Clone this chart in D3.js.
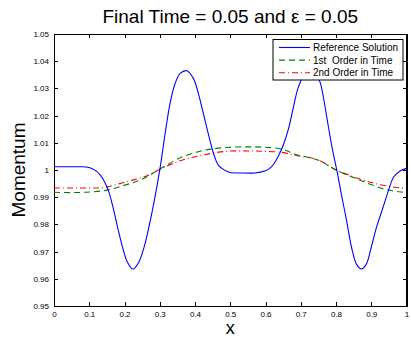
<!DOCTYPE html>
<html>
<head>
<meta charset="utf-8">
<script src="https://cdn.jsdelivr.net/npm/d3@7"></script>
<style>
  body { margin: 0; background: #fff; }
  svg { font-family: "Liberation Sans", Arial, Helvetica, sans-serif; }
  .axis path, .axis line { stroke: #000; shape-rendering: crispEdges; }
  .axis text { font-size: 8px; fill: #000; }
</style>
</head>
<body>
<svg width="411" height="339"></svg>
<script>
// values
var refX = [0, 0.05, 0.08, 0.095, 0.108, 0.12, 0.132, 0.144, 0.156, 0.168, 0.180, 0.194, 0.208, 0.224, 0.240, 0.256, 0.270, 0.285,
    0.301, 0.315, 0.329, 0.343, 0.358, 0.377, 0.396, 0.410, 0.424, 0.438, 0.453, 0.467, 0.486, 0.50, 0.532, 0.570, 0.598,
    0.612, 0.625, 0.637, 0.650, 0.665, 0.679, 0.692, 0.705, 0.718, 0.730, 0.742, 0.755, 0.765, 0.777, 0.790, 0.803, 0.815, 0.830,
    0.844, 0.858, 0.872, 0.886, 0.900, 0.915, 0.931, 0.950, 0.964, 0.983, 1.0];
var refY = [1.0012, 1.0012, 1.0012, 1.0010, 1.0005, 0.9996, 0.9980, 0.9955, 0.9918, 0.9860, 0.9792, 0.9718, 0.9662, 0.9636, 0.9660, 0.9718, 0.9795, 0.9890,
    1.0008, 1.0132, 1.0243, 1.0316, 1.0355, 1.0365, 1.0335, 1.0279, 1.0206, 1.0132, 1.0059, 1.0016, 0.9998, 0.9991, 0.9989, 0.9989, 0.9996,
    1.0006, 1.0025, 1.0052, 1.0090, 1.0150, 1.0230, 1.0300, 1.0340, 1.0362, 1.0367, 1.0355, 1.0322, 1.0262, 1.0170, 1.0075, 0.9995, 0.9912, 0.9814,
    0.9716, 0.9654, 0.9636, 0.9654, 0.9716, 0.9790, 0.9853, 0.9929, 0.9975, 0.9997, 1.0006];

var firstX = [0, 0.05, 0.10, 0.15, 0.19, 0.227, 0.256, 0.301, 0.358, 0.415, 0.448, 0.49, 0.54, 0.59, 0.646, 0.684, 0.75, 0.801, 0.858, 0.879, 0.936, 0.978, 1.0];
var firstY = [0.9918, 0.9917, 0.9919, 0.9926, 0.9940, 0.9955, 0.9970, 1.0004, 1.0045, 1.0069, 1.0077, 1.0083, 1.0085, 1.0084, 1.0077, 1.0058, 1.0036, 0.9999, 0.9968, 0.9957, 0.9930, 0.9920, 0.9918];

var secondX = [0, 0.1, 0.142, 0.18, 0.218, 0.256, 0.301, 0.358, 0.415, 0.49, 0.55, 0.59, 0.646, 0.684, 0.75, 0.801, 0.879, 0.926, 0.983, 1.0];
var secondY = [0.9934, 0.9934, 0.9935, 0.9948, 0.9961, 0.9975, 1.0003, 1.0034, 1.0053, 1.0069, 1.0070, 1.0069, 1.0065, 1.0054, 1.0037, 1.0000, 0.9962, 0.9946, 0.9934, 0.9933];

var xTicks = [0, 0.1, 0.2, 0.3, 0.4, 0.5, 0.6, 0.7, 0.8, 0.9, 1];
var yTicks = [0.95, 0.96, 0.97, 0.98, 0.99, 1, 1.01, 1.02, 1.03, 1.04, 1.05];

var legendNames = ['Reference Solution', '1st  Order in Time', '2nd Order in Time'];

var svg = d3.select('svg');
var padding = {t: 34, r: 4.5, b: 33, l: 54};
var svgWidth = +svg.attr('width');
var svgHeight = +svg.attr('height');
var chartWidth = svgWidth - padding.l - padding.r;
var chartHeight = svgHeight - padding.t - padding.b;

var xScale = d3.scaleLinear().domain([0, 1]).range([0, chartWidth]);
var yScale = d3.scaleLinear().domain([0.95, 1.05]).range([chartHeight, 0]);

var chart = svg.append('g')
    .attr('transform', 'translate(' + [padding.l, padding.t] + ')');

// axes, ticks pointing inward like matlab
chart.append('g').attr('class', 'axis')
    .attr('transform', 'translate(0,' + chartHeight + ')')
    .call(d3.axisBottom(xScale).tickValues(xTicks).tickFormat(d3.format('')).tickSizeInner(-4).tickSizeOuter(0).tickPadding(5));
chart.append('g').attr('class', 'axis')
    .call(d3.axisTop(xScale).tickValues(xTicks).tickFormat('').tickSizeInner(-4).tickSizeOuter(0));
chart.append('g').attr('class', 'axis')
    .call(d3.axisLeft(yScale).tickValues(yTicks).tickFormat(function(d) { return d3.format('')(+d.toFixed(2)); })
        .tickSizeInner(-4).tickSizeOuter(0).tickPadding(5));
chart.append('g').attr('class', 'axis')
    .attr('transform', 'translate(' + chartWidth + ',0)')
    .call(d3.axisRight(yScale).tickValues(yTicks).tickFormat('').tickSizeInner(-4).tickSizeOuter(0));
svg.selectAll('.axis .domain').attr('stroke-width', 1.2);

var line = d3.line()
    .x(function(d) { return xScale(d[0]); })
    .y(function(d) { return yScale(d[1]); })
    .curve(d3.curveCatmullRom.alpha(0.5));

function zip(xs, ys) { return xs.map(function(x, i) { return [x, ys[i]]; }); }

var series = [
    {data: zip(refX, refY), color: '#0000ff', dash: null},
    {data: zip(firstX, firstY), color: '#008000', dash: '6,4'},
    {data: zip(secondX, secondY), color: '#ff0000', dash: '6,3,1,3'}
];

chart.selectAll('.series')
    .data(series.slice().reverse())
    .enter()
    .append('path')
    .attr('class', 'series')
    .attr('fill', 'none')
    .attr('stroke', function(d) { return d.color; })
    .attr('stroke-width', 1.1)
    .attr('stroke-dasharray', function(d) { return d.dash; })
    .attr('d', function(d) { return line(d.data); });

// legend
var legend = svg.append('g').attr('transform', 'translate(273,39.5)');
legend.append('rect')
    .attr('width', 130).attr('height', 40.5)
    .attr('fill', '#fff').attr('stroke', '#000').attr('stroke-width', 1);
var rows = legend.selectAll('.row')
    .data(series)
    .enter()
    .append('g')
    .attr('class', 'row')
    .attr('transform', function(d, i) { return 'translate(0,' + (8 + i * 12.6) + ')'; });
rows.append('line')
    .attr('x1', 6).attr('x2', 37)
    .attr('stroke', function(d) { return d.color; })
    .attr('stroke-width', 1.1)
    .attr('stroke-dasharray', function(d) { return d.dash; });
rows.append('text')
    .attr('x', 40).attr('dy', '0.35em')
    .style('font-size', '10px')
    .style('white-space', 'pre')
    .text(function(d, i) { return legendNames[i]; });

// title and axis labels
svg.append('text')
    .attr('x', padding.l + chartWidth / 2).attr('y', 23)
    .attr('text-anchor', 'middle')
    .style('font-size', '19px')
    .text('Final Time = 0.05 and \u03b5 = 0.05');
svg.append('text')
    .attr('x', padding.l + chartWidth / 2).attr('y', 334)
    .attr('text-anchor', 'middle')
    .style('font-size', '18px')
    .text('x');
svg.append('text')
    .attr('transform', 'translate(25,' + (padding.t + chartHeight / 2) + ')rotate(-90)')
    .attr('text-anchor', 'middle')
    .style('font-size', '19px')
    .text('Momentum');
</script>
</body>
</html>
